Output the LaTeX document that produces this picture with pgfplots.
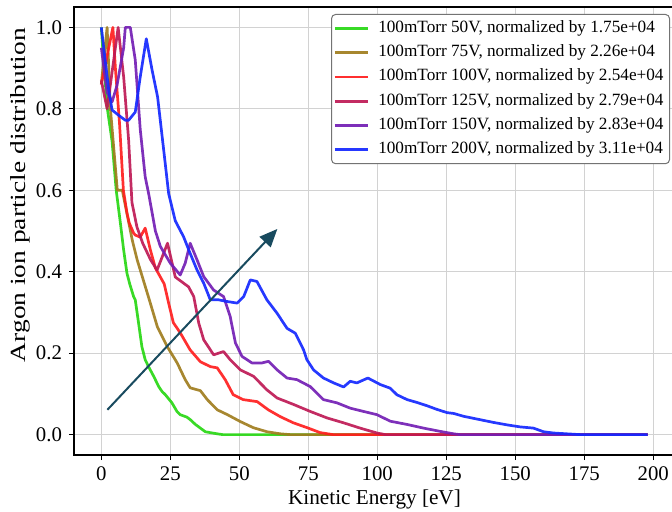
\documentclass[border=0pt]{standalone}
\usepackage{fontspec}
\setmainfont{Liberation Serif}
\usepackage{pgfplots}
\pgfplotsset{compat=1.18}
\usetikzlibrary{arrows.meta}
\definecolor{cgreen}{RGB}{40,215,20}
\definecolor{cbrown}{RGB}{160,125,30}
\definecolor{cred}{RGB}{255,30,30}
\definecolor{ccrimson}{RGB}{190,25,85}
\definecolor{cpurple}{RGB}{115,30,180}
\definecolor{cblue}{RGB}{20,40,255}
\definecolor{carrow}{RGB}{25,75,95}
\begin{document}
\begin{tikzpicture}
\begin{axis}[
  scale only axis,
  width=300.5pt, height=224pt,
  xmin=-9.9, xmax=207.9, ymin=-0.05, ymax=1.05,
  xtick={0,25,...,200},
  ytick={0,0.2,0.4,0.6,0.8,1.0},
  yticklabel style={/pgf/number format/fixed, /pgf/number format/precision=1, /pgf/number format/fixed zerofill},
  /pgf/number format/assume math mode=true,
  tick label style={font=\fontsize{10.4}{12}\selectfont},
  tick align=outside, major tick length=2.5pt,
  tick style={black, line width=0.5pt},
  xtick pos=bottom, ytick pos=left,
  grid=major,
  major grid style={gray!35, line width=0.6pt},
  axis line style={black, line width=0.6pt},
  xlabel={Kinetic Energy [eV]},
  ylabel={Argon ion particle distribution},
  xlabel style={font=\fontsize{10.6}{12}\selectfont, at={(axis description cs:0.5,-0.1)}, anchor=center},
  ylabel style={font=\fontsize{10.8}{12}\selectfont, at={(axis description cs:-0.0899,0.58)}, anchor=center, xscale=1.27},
  every axis plot/.append style={line width=1.35pt, line join=round, opacity=0.92},
  legend cell align=left,
  legend style={at={(0.9917,0.9844)}, anchor=north east,
    font=\fontsize{8.6}{9.5}\selectfont,
    draw=black!55, line width=0.5pt, rounded corners=2pt,
    inner xsep=1pt, inner ysep=1pt, column sep=2.5pt,
    nodes={inner xsep=2pt, inner ysep=2.05pt, text height=6pt, text depth=2pt}},
  legend image code/.code={\draw[#1] (0pt,0pt) -- (16.5pt,0pt);},
]
\coordinate (SW) at (rel axis cs:0,0);
\coordinate (NE) at (rel axis cs:1,1);
\addplot[cgreen] coordinates {(0,1.0) (1.0,0.90) (2.2,0.80) (3.9,0.72) (5.4,0.60) (6.9,0.52) (8.1,0.453) (9.3,0.396) (10.3,0.37) (11.7,0.339) (12.3,0.331) (13.5,0.274) (14.7,0.216) (15.9,0.184) (17.1,0.167) (19.0,0.143) (20.8,0.118) (22.0,0.106) (23.2,0.098) (25.6,0.078) (27.4,0.057) (28.6,0.049) (31.0,0.043) (32.2,0.037) (34.1,0.025) (37.7,0.007) (42,0.002) (44,0) (198,0)};
\addlegendentry{100mTorr 50V, normalized by 1.75e+04}
\addplot[cbrown] coordinates {(0,0.86) (2.1,1.0) (3.3,0.80) (5.8,0.60) (7.6,0.60) (11.2,0.478) (13.0,0.429) (15.2,0.380) (17.4,0.331) (20.3,0.265) (23.9,0.216) (27.5,0.176) (30.4,0.135) (32.2,0.115) (34.8,0.110) (35.9,0.108) (38.4,0.086) (42.0,0.061) (45.7,0.049) (50.4,0.032) (55.1,0.017) (60.1,0.007) (64.9,0.002) (68.5,0) (198,0)};
\addlegendentry{100mTorr 75V, normalized by 2.26e+04}
\addplot[cred] coordinates {(0,0.86) (4.2,1.0) (5.1,0.90) (6.6,0.764) (8.0,0.60) (9.3,0.544) (10.1,0.52) (11.7,0.495) (12.3,0.49) (14.1,0.485) (15.9,0.507) (17.8,0.453) (19.6,0.409) (21.4,0.387) (22.8,0.37) (24.5,0.32) (26.1,0.275) (28.6,0.25) (32.2,0.208) (35.9,0.179) (39.5,0.167) (42.0,0.164) (44.9,0.135) (47.8,0.098) (51.4,0.086) (56.5,0.081) (60.5,0.061) (64.9,0.044) (69.6,0.029) (74.6,0.017) (79.3,0.005) (84,0) (198,0)};
\addlegendentry{100mTorr 100V, normalized by 2.54e+04}
\addplot[ccrimson] coordinates {(0,0.87) (2.1,0.80) (6.1,1.0) (8.1,0.878) (9.9,0.723) (11.1,0.57) (12.9,0.51) (15.0,0.47) (17.8,0.43) (20.2,0.404) (24.0,0.47) (26.8,0.387) (31.6,0.363) (33.5,0.339) (35.3,0.274) (37.1,0.233) (40.7,0.196) (44.3,0.204) (46.7,0.184) (50.4,0.159) (55.2,0.143) (60.0,0.110) (63.7,0.090) (69.7,0.074) (75.7,0.057) (81.8,0.041) (87.8,0.029) (93.8,0.016) (99.9,0.004) (103,0) (198,0)};
\addlegendentry{100mTorr 125V, normalized by 2.79e+04}
\addplot[cpurple] coordinates {(0,0.95) (2.1,0.84) (3.9,0.817) (5.7,0.858) (8.1,0.95) (8.7,1.0) (10.5,1.0) (12.3,0.92) (14.1,0.75) (15.9,0.633) (17.2,0.59) (19.6,0.50) (21.4,0.462) (25.0,0.421) (28.6,0.392) (30.4,0.421) (32.2,0.47) (34.7,0.429) (37.1,0.388) (40.7,0.355) (44.3,0.339) (46.7,0.29) (48.6,0.225) (51.0,0.192) (54.6,0.176) (58.2,0.176) (60.6,0.18) (63.7,0.159) (67.3,0.139) (70.9,0.135) (75.7,0.118) (80.5,0.086) (85.4,0.078) (90.2,0.065) (95.0,0.057) (99.9,0.049) (104.7,0.033) (110.8,0.025) (116.8,0.016) (122.8,0.008) (127.7,0.002) (130,0) (198,0)};
\addlegendentry{100mTorr 150V, normalized by 2.83e+04}
\addplot[cblue] coordinates {(0,1.0) (1.4,0.919) (2.7,0.846) (3.9,0.797) (6.3,0.784) (8.7,0.772) (9.9,0.772) (12.3,0.792) (14.1,0.878) (16.3,0.972) (18.4,0.895) (20.4,0.829) (22.6,0.699) (24.4,0.592) (26.8,0.525) (29.8,0.486) (32.2,0.445) (34.7,0.404) (37.1,0.372) (39.5,0.331) (42.5,0.331) (45.5,0.327) (49.2,0.323) (51.6,0.339) (54.0,0.38) (56.4,0.376) (60.0,0.331) (63.7,0.298) (67.3,0.261) (70.3,0.249) (73.3,0.208) (74.5,0.184) (76.9,0.159) (80.5,0.139) (84.2,0.127) (87.8,0.117) (90.2,0.131) (92.6,0.127) (96.6,0.139) (101.1,0.123) (104.7,0.114) (107.1,0.098) (110.8,0.086) (114.4,0.079) (118.0,0.071) (121.6,0.062) (125.3,0.054) (127.7,0.052) (131.3,0.045) (134.9,0.040) (138.5,0.035) (142.1,0.030) (147.0,0.024) (151.8,0.019) (156.6,0.016) (160.3,0.007) (163.9,0.004) (168.7,0.002) (173.6,0) (198,0)};
\addlegendentry{100mTorr 200V, normalized by 3.11e+04}
\draw[carrow, line width=1pt, -{Triangle[length=9pt,width=7.5pt]}] (axis cs:2.2,0.061) -- (axis cs:63.8,0.505);
\end{axis}
\pgfresetboundingbox
\path[use as bounding box] ([xshift=-37pt,yshift=-28.5pt]SW) rectangle ([xshift=-1.5pt,yshift=3.5pt]NE);
\end{tikzpicture}
\end{document}
